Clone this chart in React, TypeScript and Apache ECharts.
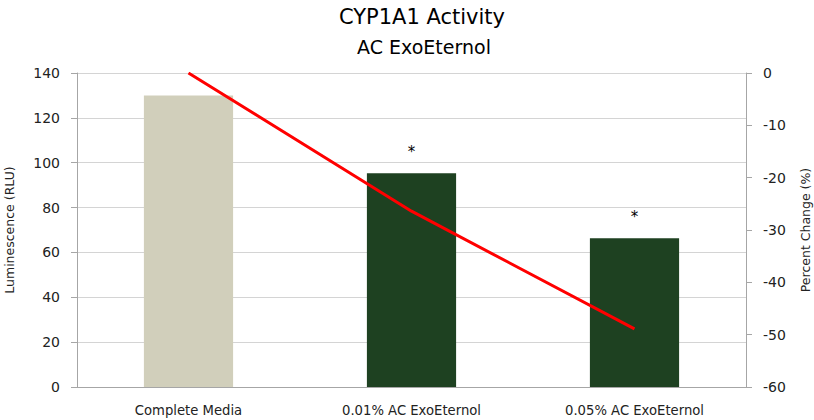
import React, { useEffect, useRef } from "react";
import * as echarts from "echarts";

const categories = ["Complete Media", "0.01% AC ExoEternol", "0.05% AC ExoEternol"];
const luminescence = [130, 95.3, 66.3];
const percentChange = [0, -26.4, -48.9];
const significance = ["", "*", "*"];
const barColors = ["#D1CFBB", "#1E4121", "#1E4121"];

const FONT = "DejaVu Sans";

export default function App() {
  const ref = useRef<HTMLDivElement>(null);
  useEffect(() => {
    if (!ref.current) return;
    const chart = echarts.init(ref.current, undefined, { renderer: "svg" });
    chart.setOption({
      animation: false,
      backgroundColor: "#ffffff",
      textStyle: { fontFamily: FONT },
      title: [
        {
          text: "CYP1A1 Activity",
          left: 417,
          textAlign: "center",
          top: 1,
          textStyle: { fontFamily: FONT, fontSize: 21, fontWeight: "normal", color: "#000" },
        },
        {
          text: "AC ExoEternol",
          left: 419,
          textAlign: "center",
          top: 32,
          textStyle: { fontFamily: FONT, fontSize: 19, fontWeight: "normal", color: "#000" },
        },
      ],
      grid: {
        left: 77,
        right: 68,
        top: 73,
        bottom: 33,
        containLabel: false,
        outerBoundsMode: "none",
      },
      xAxis: {
        type: "category",
        data: categories,
        axisLine: { lineStyle: { color: "#A6A6A6", width: 1 } },
        axisTick: { show: false },
        axisLabel: { color: "#222", fontSize: 13.2, fontFamily: FONT, margin: 17 },
      },
      yAxis: [
        {
          type: "value",
          min: 0,
          max: 140,
          interval: 20,
          name: "Luminescence (RLU)",
          nameLocation: "middle",
          nameGap: 61,
          nameTextStyle: { color: "#222", fontSize: 12.5, fontFamily: FONT },
          axisLine: { show: true, lineStyle: { color: "#A6A6A6" } },
          axisTick: { show: true, length: 6, lineStyle: { color: "#A6A6A6" } },
          axisLabel: { color: "#222", fontSize: 14, fontFamily: FONT, margin: 17 },
          splitLine: { show: true, lineStyle: { color: "#D4D4D4" } },
        },
        {
          type: "value",
          min: -60,
          max: 0,
          interval: 10,
          position: "right",
          name: "Percent Change (%)",
          nameLocation: "middle",
          nameGap: 53,
          nameRotate: 90,
          nameTextStyle: { color: "#222", fontSize: 12.5, fontFamily: FONT },
          axisLine: { show: true, lineStyle: { color: "#A6A6A6" } },
          axisTick: { show: true, length: 6, lineStyle: { color: "#A6A6A6" } },
          axisLabel: { color: "#222", fontSize: 14, fontFamily: FONT, margin: 17 },
          splitLine: { show: false },
        },
      ],
      series: [
        {
          type: "bar",
          yAxisIndex: 0,
          barWidth: "40%",
          data: luminescence.map((v, i) => ({
            value: v,
            itemStyle: { color: barColors[i] },
            label: {
              show: significance[i] !== "",
              position: "top",
              distance: 14,
              formatter: significance[i],
              color: "#000",
              fontSize: 15,
              fontFamily: FONT,
            },
          })),
        },
        {
          type: "line",
          yAxisIndex: 1,
          data: percentChange,
          showSymbol: false,
          symbol: "none",
          lineStyle: { color: "#FF0000", width: 3 },
          itemStyle: { color: "#FF0000" },
          z: 5,
        },
      ],
    });
    return () => chart.dispose();
  }, []);
  return <div ref={ref} style={{ width: 814, height: 420, position: "absolute", left: 0, top: 0 }} />;
}
